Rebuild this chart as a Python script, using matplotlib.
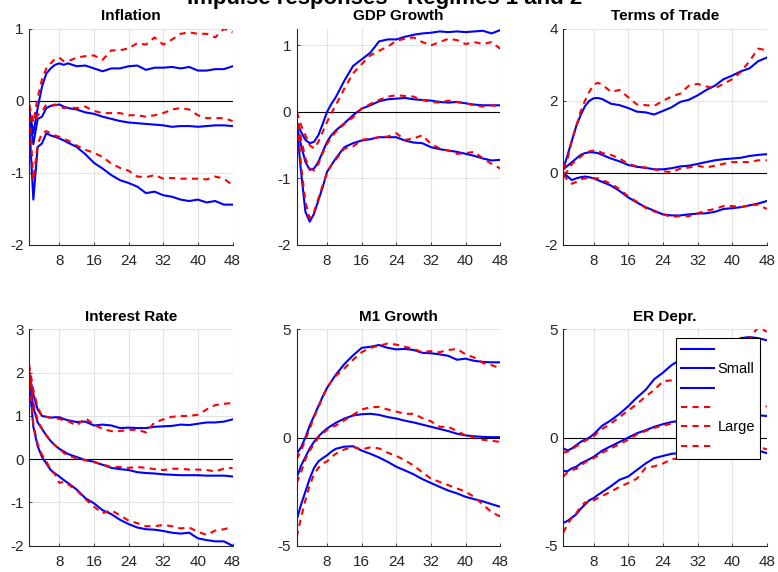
import matplotlib
matplotlib.use('Agg')
import matplotlib.pyplot as plt

plt.rcParams['font.family'] = ['Liberation Sans', 'DejaVu Sans']
plt.rcParams['axes.unicode_minus'] = False

# horizons (months)
h = [1, 2, 3, 4, 5, 6, 7, 8, 9, 10, 12, 14, 16, 18, 20, 22, 24, 26, 28, 30,
     32, 34, 36, 38, 40, 42, 44, 46, 48]

# Inflation: upper band, median, lower band
infl_small_hi = [-0.1, -0.45, -0.1, 0.2, 0.38, 0.45, 0.5, 0.52, 0.5, 0.52, 0.48, 0.49, 0.45, 0.41, 0.45,
                 0.45, 0.48, 0.49, 0.43, 0.46, 0.46, 0.47, 0.45, 0.47, 0.42, 0.42, 0.44, 0.44, 0.48]
infl_small_mid = [-0.15, -0.6, -0.25, -0.22, -0.1, -0.07, -0.06, -0.05, -0.08, -0.1, -0.12, -0.16, -0.18,
                  -0.22, -0.25, -0.28, -0.3, -0.31, -0.32, -0.33, -0.34, -0.36, -0.35, -0.35, -0.36,
                  -0.35, -0.34, -0.34, -0.35]
infl_small_lo = [-0.25, -1.37, -0.64, -0.59, -0.45, -0.48, -0.5, -0.52, -0.55, -0.58, -0.64, -0.74, -0.86,
                 -0.94, -1.03, -1.1, -1.14, -1.19, -1.28, -1.26, -1.31, -1.33, -1.37, -1.39, -1.37,
                 -1.41, -1.39, -1.44, -1.44]
infl_large_hi = [-0.05, -0.3, 0.05, 0.3, 0.45, 0.52, 0.58, 0.6, 0.55, 0.55, 0.6, 0.62, 0.63, 0.57, 0.7,
                 0.7, 0.73, 0.8, 0.78, 0.88, 0.78, 0.85, 0.93, 0.95, 0.93, 0.93, 0.88, 1.0, 0.95]
infl_large_mid = [-0.05, -0.3, -0.2, -0.15, -0.05, -0.07, -0.05, -0.08, -0.1, -0.09, -0.1, -0.08, -0.14,
                  -0.17, -0.17, -0.17, -0.2, -0.2, -0.22, -0.2, -0.17, -0.12, -0.1, -0.12, -0.2, -0.24,
                  -0.24, -0.24, -0.28]
infl_large_lo = [-0.05, -1.1, -0.6, -0.45, -0.42, -0.45, -0.48, -0.5, -0.53, -0.55, -0.62, -0.68, -0.72,
                 -0.78, -0.87, -0.93, -0.97, -1.05, -1.06, -1.03, -1.08, -1.07, -1.08, -1.08, -1.08,
                 -1.09, -1.05, -1.08, -1.17]

# GDP growth
gdp_small_hi = [-0.15, -0.3, -0.42, -0.47, -0.45, -0.35, -0.18, 0.0, 0.12, 0.22, 0.47, 0.69, 0.79, 0.89,
                1.06, 1.09, 1.09, 1.13, 1.16, 1.18, 1.19, 1.21, 1.2, 1.21, 1.2, 1.21, 1.22, 1.18, 1.23]
gdp_small_mid = [-0.2, -0.5, -0.75, -0.87, -0.85, -0.75, -0.6, -0.45, -0.35, -0.28, -0.17, -0.05, 0.05,
                 0.1, 0.16, 0.19, 0.2, 0.21, 0.19, 0.18, 0.17, 0.15, 0.14, 0.15, 0.13, 0.11, 0.1, 0.1, 0.1]
gdp_small_lo = [-0.2, -0.9, -1.5, -1.65, -1.53, -1.33, -1.13, -0.9, -0.8, -0.7, -0.53, -0.47, -0.43,
                -0.41, -0.38, -0.38, -0.38, -0.43, -0.46, -0.47, -0.53, -0.56, -0.58, -0.6, -0.63,
                -0.66, -0.7, -0.73, -0.72]
gdp_large_hi = [0.0, -0.2, -0.35, -0.5, -0.55, -0.45, -0.3, -0.15, -0.02, 0.1, 0.35, 0.58, 0.72, 0.85,
                0.92, 0.98, 1.07, 1.1, 1.12, 1.05, 1.0, 1.05, 1.1, 1.08, 1.02, 1.05, 1.02, 1.05, 0.95]
gdp_large_mid = [0.0, -0.4, -0.7, -0.85, -0.88, -0.78, -0.62, -0.48, -0.38, -0.3, -0.18, -0.08, 0.05,
                 0.12, 0.18, 0.23, 0.25, 0.24, 0.23, 0.18, 0.15, 0.14, 0.17, 0.15, 0.13, 0.1, 0.08, 0.1, 0.08]
gdp_large_lo = [0.0, -0.8, -1.35, -1.6, -1.5, -1.3, -1.1, -0.92, -0.8, -0.72, -0.55, -0.52, -0.42, -0.4,
                -0.38, -0.37, -0.32, -0.42, -0.4, -0.35, -0.48, -0.55, -0.58, -0.63, -0.62, -0.6,
                -0.7, -0.78, -0.85]

# Terms of trade
tot_small_hi = [0.1, 0.5, 0.9, 1.3, 1.6, 1.85, 2.0, 2.07, 2.08, 2.05, 1.92, 1.88, 1.8, 1.7, 1.68, 1.62,
                1.72, 1.82, 1.97, 2.03, 2.15, 2.3, 2.42, 2.6, 2.7, 2.82, 2.9, 3.1, 3.2]
tot_small_mid = [0.1, 0.2, 0.3, 0.4, 0.5, 0.55, 0.57, 0.57, 0.55, 0.5, 0.4, 0.32, 0.22, 0.17, 0.14, 0.1,
                 0.1, 0.13, 0.18, 0.2, 0.25, 0.3, 0.35, 0.38, 0.4, 0.42, 0.47, 0.5, 0.52]
tot_small_lo = [0.0, -0.1, -0.2, -0.15, -0.12, -0.1, -0.12, -0.15, -0.2, -0.25, -0.35, -0.5, -0.68,
                -0.82, -0.95, -1.05, -1.15, -1.18, -1.18, -1.15, -1.13, -1.12, -1.08, -1.0, -0.98,
                -0.95, -0.9, -0.85, -0.78]
tot_large_hi = [0.1, 0.4, 0.9, 1.3, 1.7, 2.0, 2.25, 2.45, 2.5, 2.45, 2.25, 2.3, 2.1, 1.9, 1.88, 1.86,
                2.0, 2.12, 2.2, 2.42, 2.47, 2.4, 2.35, 2.47, 2.6, 2.8, 3.1, 3.45, 3.4]
tot_large_mid = [-0.05, 0.05, 0.25, 0.35, 0.45, 0.55, 0.6, 0.62, 0.62, 0.55, 0.5, 0.4, 0.25, 0.18, 0.15,
                 0.1, 0.05, 0.02, 0.12, 0.15, 0.2, 0.15, 0.2, 0.25, 0.3, 0.3, 0.3, 0.35, 0.35]
tot_large_lo = [-0.05, -0.2, -0.3, -0.25, -0.18, -0.15, -0.15, -0.15, -0.15, -0.2, -0.3, -0.45, -0.65,
                -0.8, -0.97, -1.07, -1.15, -1.22, -1.2, -1.2, -1.12, -1.05, -1.0, -0.92, -0.92, -0.95,
                -0.9, -0.88, -1.0]

# Interest rate
ir_small_hi = [2.0, 1.5, 1.15, 1.0, 0.98, 0.96, 0.97, 0.97, 0.93, 0.9, 0.86, 0.87, 0.78, 0.8, 0.78, 0.72,
               0.73, 0.72, 0.72, 0.75, 0.76, 0.77, 0.8, 0.79, 0.82, 0.85, 0.85, 0.87, 0.92]
ir_small_mid = [1.9, 1.2, 0.85, 0.7, 0.55, 0.42, 0.32, 0.24, 0.18, 0.12, 0.05, -0.02, -0.06, -0.13, -0.2,
                -0.23, -0.25, -0.3, -0.32, -0.33, -0.35, -0.36, -0.37, -0.37, -0.37, -0.38, -0.38,
                -0.38, -0.4]
ir_small_lo = [1.85, 0.75, 0.3, 0.05, -0.1, -0.25, -0.33, -0.4, -0.48, -0.55, -0.7, -0.9, -1.02, -1.18,
               -1.27, -1.4, -1.5, -1.58, -1.62, -1.63, -1.66, -1.7, -1.72, -1.7, -1.83, -1.87, -1.9,
               -1.9, -2.0]
ir_large_hi = [2.2, 1.6, 1.2, 1.0, 0.98, 0.96, 0.95, 0.93, 0.9, 0.88, 0.78, 0.95, 0.8, 0.7, 0.65, 0.65,
               0.68, 0.68, 0.62, 0.85, 0.92, 0.98, 1.0, 1.0, 1.03, 1.15, 1.25, 1.28, 1.3]
ir_large_mid = [2.1, 1.3, 0.9, 0.7, 0.55, 0.42, 0.32, 0.25, 0.15, 0.08, 0.02, -0.02, -0.07, -0.12, -0.18,
                -0.18, -0.2, -0.18, -0.2, -0.23, -0.25, -0.22, -0.22, -0.24, -0.24, -0.25, -0.28,
                -0.22, -0.2]
ir_large_lo = [2.0, 0.8, 0.35, 0.1, -0.05, -0.25, -0.35, -0.55, -0.52, -0.58, -0.72, -0.92, -1.1, -1.25,
               -1.18, -1.3, -1.42, -1.48, -1.55, -1.55, -1.52, -1.55, -1.6, -1.58, -1.68, -1.75,
               -1.65, -1.62, -1.57]

# M1 growth
m1_small_hi = [-0.75, -0.45, 0.0, 0.55, 1.0, 1.45, 1.9, 2.3, 2.6, 2.9, 3.4, 3.8, 4.15, 4.2, 4.28, 4.15,
               4.08, 4.1, 4.05, 3.92, 3.9, 3.85, 3.78, 3.6, 3.65, 3.55, 3.5, 3.48, 3.48]
m1_small_mid = [-1.85, -1.3, -0.9, -0.5, -0.2, 0.05, 0.25, 0.42, 0.55, 0.68, 0.88, 1.02, 1.08, 1.1, 1.05,
                0.95, 0.88, 0.78, 0.7, 0.6, 0.5, 0.4, 0.3, 0.18, 0.1, 0.06, 0.03, 0.02, 0.02]
m1_small_lo = [-3.8, -3.1, -2.5, -1.9, -1.4, -1.1, -0.95, -0.82, -0.65, -0.52, -0.42, -0.4, -0.6, -0.75,
               -0.92, -1.12, -1.35, -1.52, -1.7, -1.92, -2.1, -2.28, -2.45, -2.58, -2.74, -2.85,
               -2.95, -3.08, -3.2]
m1_large_hi = [-1.0, -0.6, -0.1, 0.4, 0.95, 1.4, 1.85, 2.3, 2.6, 2.85, 3.2, 3.6, 3.95, 4.15, 4.25, 4.35,
               4.3, 4.2, 4.1, 3.95, 4.0, 3.95, 4.05, 4.1, 3.85, 3.7, 3.45, 3.35, 3.2]
m1_large_mid = [-2.1, -1.6, -1.0, -0.6, -0.3, 0.0, 0.2, 0.35, 0.5, 0.55, 0.8, 1.05, 1.3, 1.4, 1.42, 1.3,
                1.2, 1.1, 1.1, 0.9, 0.75, 0.5, 0.5, 0.3, 0.1, 0.0, -0.1, -0.15, -0.2]
m1_large_lo = [-4.6, -3.7, -2.9, -2.2, -1.7, -1.4, -1.2, -1.1, -0.9, -0.75, -0.55, -0.43, -0.55, -0.45,
               -0.5, -0.7, -0.85, -1.05, -1.3, -1.6, -1.9, -2.05, -2.2, -2.35, -2.5, -2.75, -3.1,
               -3.45, -3.65]

# Exchange rate depreciation
er_small_hi = [-0.5, -0.6, -0.5, -0.35, -0.2, -0.1, 0.0, 0.15, 0.35, 0.55, 0.8, 1.1, 1.45, 1.85, 2.2,
               2.7, 3.0, 3.35, 3.6, 3.8, 4.0, 4.1, 4.2, 4.3, 4.4, 4.6, 4.65, 4.6, 4.5]
er_small_mid = [-1.55, -1.55, -1.42, -1.35, -1.2, -1.1, -1.0, -0.89, -0.75, -0.6, -0.4, -0.2, 0.0, 0.2,
                0.34, 0.5, 0.62, 0.72, 0.78, 0.85, 0.9, 0.95, 1.0, 1.02, 1.05, 1.08, 1.1, 1.03, 1.0]
er_small_lo = [-3.95, -3.85, -3.7, -3.55, -3.3, -3.1, -2.9, -2.8, -2.65, -2.52, -2.25, -1.95, -1.8,
               -1.5, -1.2, -0.95, -0.85, -0.75, -0.72, -0.7, -0.68, -0.65, -0.62, -0.6, -0.58,
               -0.55, -0.5, -0.6, -0.72]
er_large_hi = [-0.7, -0.65, -0.55, -0.4, -0.3, -0.15, -0.05, 0.05, 0.25, 0.4, 0.65, 0.95, 1.25, 1.55,
               1.9, 2.2, 2.6, 2.65, 2.8, 3.0, 3.3, 3.6, 3.9, 4.1, 4.3, 4.4, 4.6, 5.1, 4.9]
er_large_mid = [-1.8, -1.6, -1.5, -1.45, -1.3, -1.15, -1.05, -0.95, -0.85, -0.7, -0.5, -0.3, -0.1, 0.15,
                0.3, 0.45, 0.55, 0.65, 0.75, 0.8, 0.85, 0.9, 0.95, 1.0, 1.05, 1.1, 1.2, 1.35, 1.45]
er_large_lo = [-4.4, -4.0, -3.7, -3.5, -3.2, -3.0, -3.0, -2.9, -2.8, -2.7, -2.5, -2.28, -2.1, -1.9,
               -1.4, -1.33, -1.2, -1.0, -0.95, -0.9, -0.85, -0.8, -0.75, -0.7, -0.6, -0.5, -0.45,
               -0.42, -0.55]

titles = ['Inflation', 'GDP Growth', 'Terms of Trade', 'Interest Rate', 'M1 Growth', 'ER Depr.']
ylims = [(-2, 1), (-2, 1.25), (-2, 4), (-2, 3), (-5, 5), (-5, 5)]
yticks = [[-2, -1, 0, 1], [-2, -1, 0, 1], [-2, 0, 2, 4], [-2, -1, 0, 1, 2, 3], [-5, 0, 5], [-5, 0, 5]]
xticks = [8, 16, 24, 32, 40, 48]

small = [
    (infl_small_hi, infl_small_mid, infl_small_lo),
    (gdp_small_hi, gdp_small_mid, gdp_small_lo),
    (tot_small_hi, tot_small_mid, tot_small_lo),
    (ir_small_hi, ir_small_mid, ir_small_lo),
    (m1_small_hi, m1_small_mid, m1_small_lo),
    (er_small_hi, er_small_mid, er_small_lo),
]
large = [
    (infl_large_hi, infl_large_mid, infl_large_lo),
    (gdp_large_hi, gdp_large_mid, gdp_large_lo),
    (tot_large_hi, tot_large_mid, tot_large_lo),
    (ir_large_hi, ir_large_mid, ir_large_lo),
    (m1_large_hi, m1_large_mid, m1_large_lo),
    (er_large_hi, er_large_mid, er_large_lo),
]

fig = plt.figure(figsize=(7.78, 5.72), dpi=100)

lefts = [0.0373, 0.3814, 0.7240]
bottoms = [0.5717, 0.0460]
width, height = 0.2616, 0.378
axis_col = '#262626'

for i in range(6):
    ax = fig.add_axes([lefts[i % 3], bottoms[i // 3], width, height])
    ax.axhline(0, color='k', lw=0.8, zorder=1.5)
    lines = []
    for s in small[i]:
        ln, = ax.plot(h, s, color='#0000ff', lw=1.5, zorder=2)
        lines.append(ln)
    for s in large[i]:
        ln, = ax.plot(h, s, color='#ff0000', lw=1.5, ls='--', dashes=(3, 2.5), zorder=2.1)
        lines.append(ln)

    ax.set_xlim(1, 48)
    ax.set_ylim(*ylims[i])
    ax.set_xticks(xticks)
    ax.set_yticks(yticks[i])
    ax.grid(True, color='#e3e3e3', lw=0.8)
    ax.set_axisbelow(True)
    for side in ['top', 'right']:
        ax.spines[side].set_visible(False)
    for side in ['left', 'bottom']:
        ax.spines[side].set_color(axis_col)
        ax.spines[side].set_linewidth(0.8)
    ax.tick_params(direction='in', length=2.5, width=0.6, colors=axis_col, labelsize=11)
    ax.tick_params(axis='x', pad=6.5)
    ax.tick_params(axis='y', pad=4)
    ax.set_title(titles[i], fontsize=11, fontweight='bold', pad=6)

    if i == 5:
        leg = ax.legend(lines, ['', 'Small', '', '', 'Large', ''],
                        loc='upper left', bbox_to_anchor=(676 / 778, 1 - 338 / 572),
                        bbox_transform=fig.transFigure, borderaxespad=0,
                        fancybox=False, edgecolor='k', framealpha=1, fontsize=10.5,
                        handlelength=2.3, handletextpad=0.2, labelspacing=0.37, borderpad=0.33)
        leg.get_frame().set_linewidth(0.8)

fig.text(0.494, 1 - 4 / 572, 'Impulse responses - Regimes 1 and 2', ha='center', va='baseline',
         fontsize=16, fontweight='bold')

fig.savefig('out.png', dpi=100)
